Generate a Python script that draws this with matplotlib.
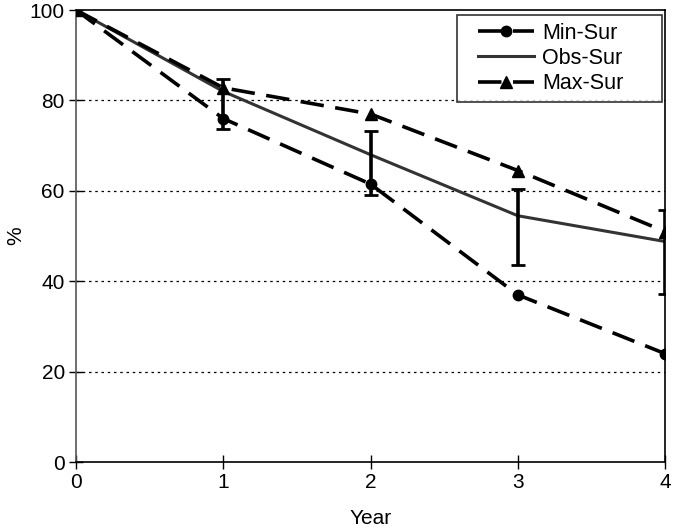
import matplotlib
matplotlib.use("Agg")
import matplotlib.pyplot as plt
from matplotlib.lines import Line2D
from matplotlib.legend_handler import HandlerLine2D

plt.rcParams['font.family'] = ['Liberation Sans', 'DejaVu Sans']

years = [0, 1, 2, 3, 4]
min_sur = [100, 76, 61.5, 37, 24]
obs_sur = [100, 82, 68, 54.5, 48.8]
max_sur = [100, 82.8, 77, 64.5, 51]
err_x = [1, 2, 3, 4]
err_mid = [82, 68, 54.5, 48.8]
err_low = [73.6, 59, 43.5, 37.2]
err_high = [84.8, 73.3, 60.5, 55.8]
yticks = [0, 20, 40, 60, 80, 100]
xticks = [0, 1, 2, 3, 4]

fig = plt.figure(figsize=(6.78, 5.27), dpi=100)
ax = fig.add_axes([0.112, 0.123, 0.869, 0.858])

for y in yticks[1:-1]:
    ax.axhline(y, color='black', linestyle=(0, (2, 3)), linewidth=0.9, zorder=1)

dash = (0, (6.5, 3.2))
ax.plot(years, min_sur, color='black', linestyle=dash, linewidth=2.6, marker='o',
        markersize=7.5, label='Min-Sur', zorder=3)
ax.plot(years, obs_sur, color='#333333', linestyle='-', linewidth=2.2, label='Obs-Sur', zorder=3)
ax.plot(years, max_sur, color='black', linestyle=dash, linewidth=2.6, marker='^',
        markersize=8, label='Max-Sur', zorder=3)

lo = [m - l for m, l in zip(err_mid, err_low)]
hi = [h - m for m, h in zip(err_mid, err_high)]
ax.errorbar(err_x, err_mid, yerr=[lo, hi], fmt='none', ecolor='black', elinewidth=2.6,
            capsize=5, capthick=2, zorder=4)

ax.set_xlim(0, 4)
ax.set_ylim(0, 100)
ax.set_xticks(xticks)
ax.set_yticks(yticks)
ax.tick_params(axis='both', direction='inout', length=10, width=1, labelsize=15, pad=3)
ax.set_xlabel('Year', fontsize=15, labelpad=12)
ax.set_ylabel('%', fontsize=15, labelpad=3)
for s in ax.spines.values():
    s.set_linewidth(1.2)
ax.spines['left'].set_color('#555555')

leg = ax.legend(loc='upper left', bbox_to_anchor=(0.647, 0.5, 0.348, 0.489), mode='expand',
                fontsize=15.5, frameon=True, fancybox=False,
                edgecolor='black', handlelength=3.2, borderpad=0.35, labelspacing=0.2,
                handletextpad=0.4, borderaxespad=0.0,
                handler_map={Line2D: HandlerLine2D(xpad=0.63)})
leg.get_frame().set_linewidth(1.2)

fig.savefig('out.png', dpi=100)
